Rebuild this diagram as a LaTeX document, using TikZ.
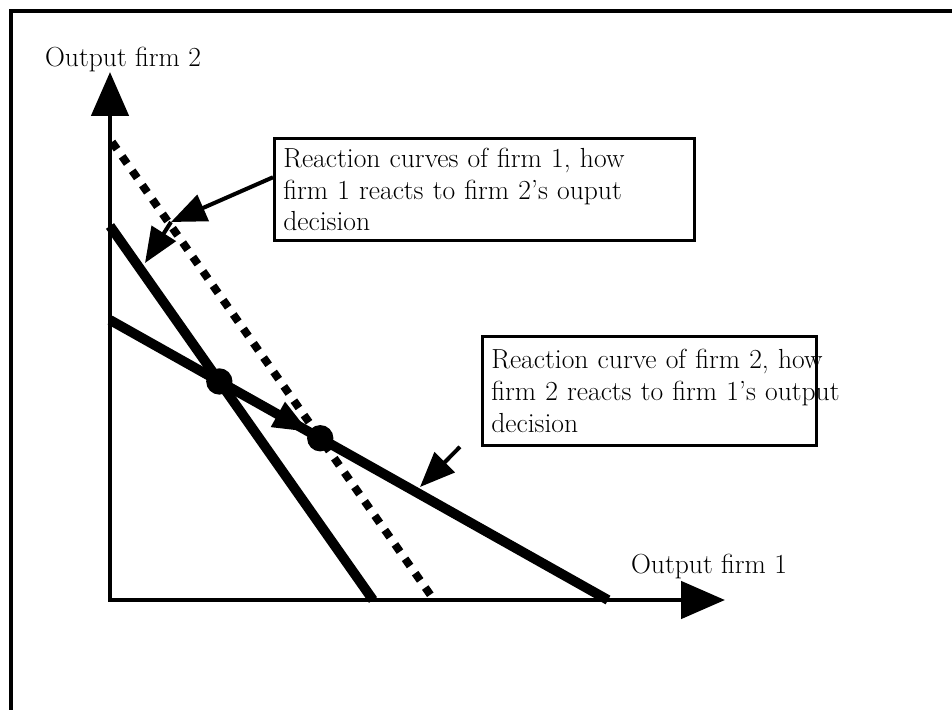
\documentclass[tikz,border=0pt]{standalone}
\usetikzlibrary{arrows.meta,positioning}

\tikzset{
  axis/.style={line width=2.8pt,line join=miter,{Triangle[length=25pt,width=21pt]}-{Triangle[length=25pt,width=21pt]}},
  curve/.style={line width=5.6pt},
  shifted/.style={line width=4.5pt,dash pattern=on 5pt off 5pt},
  note/.style={draw,line width=1.7pt,align=left,anchor=north west,inner xsep=5pt,inner ysep=5.5pt},
  pointer/.style={line width=2.3pt,-{Triangle[length=20pt,width=16pt]}},
  eqpoint/.style={circle,fill,inner sep=0pt,minimum size=15pt}
}

\begin{document}
\begin{tikzpicture}[x=0.02cm,y=-0.02cm,every node/.append style={font=\fontsize{15.7}{18}\selectfont}]
\useasboundingbox (0,0) rectangle (952,709);
% frame
\draw[line width=2pt] (11,730) -- (11,11) -- (970,11);

% axes
\coordinate (O) at (110,600);
\coordinate (ytop) at (110,72);
\coordinate (xend) at (725,600);
\draw[axis] (ytop) -- (O) -- (xend);
\node[anchor=base] (ylab) at (123,67) {Output firm 2};
\node[anchor=base] (xlab) at (709,573) {Output firm 1};

% reaction curves
\coordinate (a1) at (110,226);
\coordinate (a2) at (373,600);
\coordinate (b1) at (110,320);
\coordinate (b2) at (608,600);
\coordinate (d1) at (112,142);
\coordinate (d2) at (434,600);
\draw[curve] (a1) -- (a2);
\draw[curve] (b1) -- (b2);
\draw[shifted] (d1) -- (d2);

% equilibria
\node[eqpoint] (e1) at (intersection of a1--a2 and b1--b2) {};
\node[eqpoint] (e2) at (intersection of d1--d2 and b1--b2) {};
\draw[pointer] (e1) -- (e2);

% labels
\node[note,text width=229pt] (rc1) at (273,137)
  {Reaction curves of firm 1, how\\ firm 1 reacts to firm 2's ouput\\ decision};
\node[note,text width=180pt,minimum height=62pt] (rc2) at (481,335)
  {\mbox{Reaction curve of firm 2, how}\\ \mbox{firm 2 reacts to firm 1's output}\\ decision};

\coordinate (p1) at (171,222);
\coordinate (p2) at (145,263);
\coordinate (p3) at (420,487);
\draw[pointer] ([yshift=7pt]rc1.west) -- (p1);
\draw[pointer] (p1) -- (p2);
\draw[pointer] ([xshift=-12pt]rc2.south west) -- (p3);
\end{tikzpicture}
\end{document}
